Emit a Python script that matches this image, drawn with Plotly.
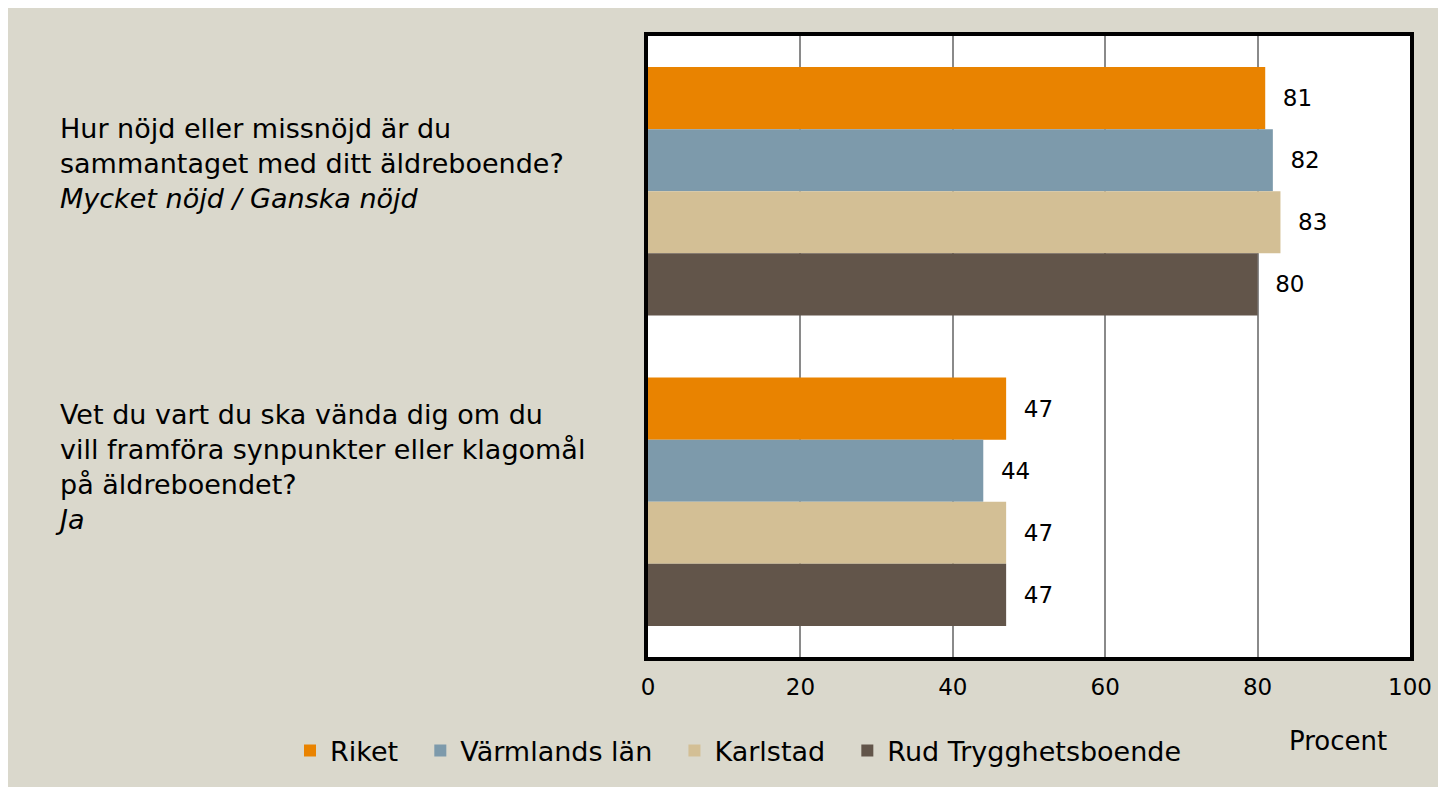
import plotly.graph_objects as go

questions = [
    "Hur nöjd eller missnöjd är du<br>sammantaget med ditt äldreboende?<br><i>Mycket nöjd / Ganska nöjd</i>",
    "Vet du vart du ska vända dig om du<br>vill framföra synpunkter eller klagomål<br>på äldreboendet?<br><i>Ja</i>",
]
series_names = ["Riket", "Värmlands län", "Karlstad", "Rud Trygghetsboende"]
riket = [81, 47]
varmland = [82, 44]
karlstad = [83, 47]
rud = [80, 47]
series_values = [riket, varmland, karlstad, rud]
colors = ["#E98300", "#7D9AAB", "#D3BF95", "#62554A"]
x_ticks = [0, 20, 40, 60, 80, 100]

FONT = "DejaVu Sans"
OFF = 8  # page body margin
W, H = 1454, 795
L, R, T, B = 648 - OFF, W - (1410 - OFF), 36 - OFF, H - (657 - OFF)
pw, ph = W - L - R, H - T - B

def px_x(p):
    return (p - OFF - L) / pw

def px_y(p):
    return (H - B - (p - OFF)) / ph

fig = go.Figure()
ypos = list(range(len(questions)))
NBSP = "\u00a0"
for name, vals, col in zip(series_names, series_values, colors):
    fig.add_trace(go.Bar(
        x=vals, y=ypos, orientation="h", name=name + NBSP * 2,
        marker=dict(color=col, line=dict(width=0)),
        text=vals, texttemplate="  %{x}", textposition="outside",
        textfont=dict(family=FONT, size=23, color="black"),
        cliponaxis=False,
    ))

fig.update_layout(
    width=W, height=H,
    margin=dict(l=L, r=R, t=T, b=B, pad=0),
    paper_bgcolor="#DAD8CC", plot_bgcolor="white",
    barmode="group", bargap=0.2, bargroupgap=0,
    font=dict(family=FONT, size=22, color="black"),
    showlegend=True,
    legend=dict(orientation="h", x=px_x(290), xanchor="left", y=px_y(751), yanchor="middle",
                font=dict(family=FONT, size=27, color="black"), bgcolor="rgba(0,0,0,0)",
                traceorder="normal"),
    xaxis=dict(range=[0, 100], tickvals=x_ticks, showgrid=True, gridcolor="#8a8a8a", gridwidth=1.5,
               showline=True, linecolor="black", linewidth=4, mirror=True, zeroline=False,
               ticks="", ticklabelstandoff=6, tickfont=dict(family=FONT, size=23, color="black")),
    yaxis=dict(range=[1.5, -0.5], showticklabels=False, showgrid=False, zeroline=False,
               showline=True, linecolor="black", linewidth=4, mirror=True, ticks=""),
)

q_centers = [163, 467]
q_left = [58, 53]
for q, c, xl in zip(questions, q_centers, q_left):
    fig.add_annotation(text=q, xref="paper", yref="paper", x=px_x(xl), y=px_y(c),
                       xanchor="left", yanchor="middle", align="left", showarrow=False,
                       font=dict(family=FONT, size=27, color="black"))

fig.add_annotation(text="Procent", xref="paper", yref="paper", x=px_x(1338), y=px_y(741),
                   xanchor="center", yanchor="middle", showarrow=False,
                   font=dict(family=FONT, size=26, color="black"))

fig.write_html("out.html")
